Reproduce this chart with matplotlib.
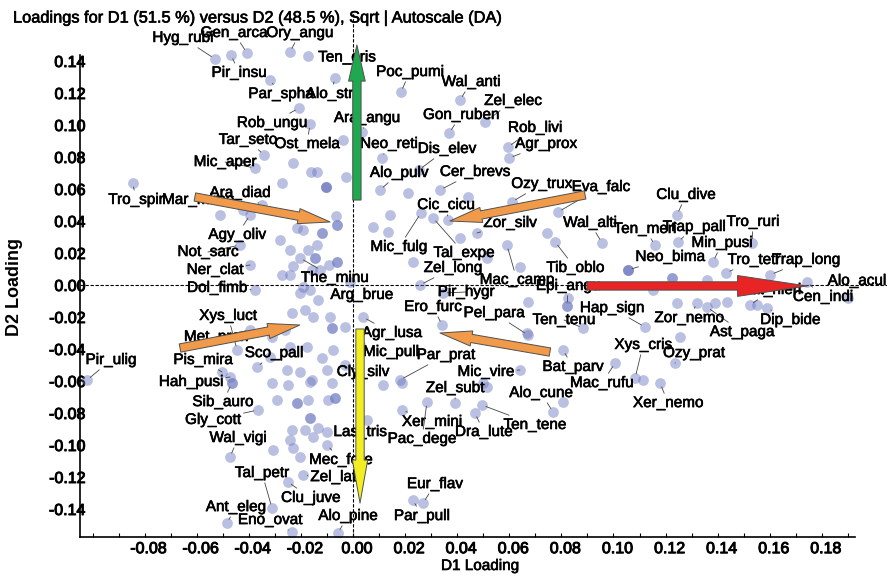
import matplotlib
matplotlib.use("Agg")
import matplotlib.pyplot as plt
import matplotlib.transforms as mtrans
import matplotlib.patheffects as pe
from matplotlib.patches import FancyArrowPatch
import numpy as np

plt.rcParams['font.family'] = ['Liberation Sans', 'DejaVu Sans']

# ---------------- data ----------------
title = "Loadings for D1 (51.5 %) versus D2 (48.5 %), Sqrt | Autoscale (DA)"
x_label = "D1 Loading"
y_label = "D2 Loading"
x_ticks = [-0.08, -0.06, -0.04, -0.02, 0.00, 0.02, 0.04, 0.06, 0.08, 0.10, 0.12, 0.14, 0.16, 0.18]
y_ticks = [-0.14, -0.12, -0.10, -0.08, -0.06, -0.04, -0.02, 0.00, 0.02, 0.04, 0.06, 0.08, 0.10, 0.12, 0.14]

# labelled species loadings
lab_names = ["Hyg_rubi", "Gen_arca", "Pir_insu", "Ory_angu", "Ten_oris", "Par_spha", "Alo_stri",
             "Poc_pumi", "Wal_anti", "Zel_elec", "Gon_ruben", "Rob_livi", "Agr_prox", "Rob_ungu",
             "Ara_angu", "Tar_seto", "Ost_mela", "Neo_reti", "Dis_elev", "Mic_aper", "Alo_pulv",
             "Cer_brevs", "Ozy_trux", "Eva_falc", "Clu_dive", "Tro_spir", "Mar_mime", "Ara_diad",
             "Agy_oliv", "Cic_cicu", "Mic_fulg", "Tal_expe", "Zor_silv", "Wal_alti", "Ten_meri",
             "Trap_pall", "Tro_ruri", "Min_pusi", "Neo_bima", "Tro_tetr", "Trap_long", "Alo_acul",
             "Cen_indi", "Lat_nieri", "Dip_bide", "Ast_paga", "Zor_nemo", "Ozy_prat", "Xer_nemo",
             "Xys_cris", "Mac_rufu", "Bat_parv", "Alo_cune", "Ten_tene", "Dra_lute", "Zel_subt",
             "Xer_mini", "Pac_dege", "Las_tris", "Mec_fore", "Zel_lati", "Tal_petr", "Clu_juve",
             "Ant_eleg", "Eno_ovat", "Alo_pine", "Eur_flav", "Par_pull", "Agr_lusa", "Mic_pull",
             "Cly_silv", "Par_prat", "Mic_vire", "Pel_para", "Ten_tenu", "Hap_sign", "Tib_oblo",
             "Epi_angu", "Mac_camp", "Zel_long", "Pir_hygr", "Ero_furc", "The_minu", "Arg_brue",
             "Ner_clat", "Dol_fimb", "Not_sarc", "Xys_luct", "Met_pron", "Pis_mira", "Sco_pall",
             "Pir_ulig", "Hah_pusi", "Sib_auro", "Gly_cott", "Wal_vigi"]
lab_x = [-0.0530, -0.0407, -0.0468, -0.0242, 0.0015, -0.0319, -0.0069,
         0.0184, 0.0411, 0.0507, 0.0369, 0.0595, 0.0599, -0.0207,
         0.0035, -0.0342, -0.0165, 0.0111, 0.0253, -0.0376, 0.0104,
         0.0334, 0.0610, 0.0787, 0.1244, -0.0845, -0.0422, -0.0349,
         -0.0395, 0.0365, 0.0261, 0.0307, 0.0476, 0.0956, 0.1159,
         0.1248, 0.1532, 0.1382, 0.1056, 0.1432, 0.1601, 0.1900,
         0.1743, 0.1524, 0.1590, 0.1359, 0.1321, 0.1236, 0.1179,
         0.1083, 0.1006, 0.0806, 0.0768, 0.0495, 0.0468, 0.0392,
         0.0188, 0.0284, 0.0054, -0.0100, -0.0192, -0.0311, -0.0250,
         -0.0484, -0.0234, -0.0058, 0.0269, 0.0230, 0.0038, 0.0027,
         -0.0031, 0.0180, 0.0641, 0.0672, 0.0883, 0.1121, 0.0776,
         0.0822, 0.0591, 0.0257, 0.0346, 0.0342, -0.0204, -0.0012,
         -0.0395, -0.0376, -0.0434, -0.0445, -0.0395, -0.0503, -0.0369,
         -0.1021, -0.0472, -0.0465, -0.0365, -0.0472]
lab_y = [0.1413, 0.1450, 0.1438, 0.1456, 0.1310, 0.1281, 0.1294,
         0.1206, 0.1156, 0.1019, 0.0950, 0.0863, 0.0794, 0.1106,
         0.0956, 0.0813, 0.1006, 0.0794, 0.0719, 0.0731, 0.0594,
         0.0594, 0.0519, 0.0456, 0.0438, 0.0638, 0.0469, 0.0500,
         0.0438, 0.0406, 0.0450, 0.0419, 0.0325, 0.0263, 0.0250,
         0.0269, 0.0263, 0.0144, 0.0094, 0.0075, 0.0063, -0.0081,
         0.0019, -0.0125, -0.0144, -0.0138, -0.0113, -0.0488, -0.0613,
         -0.0581, -0.0488, -0.0406, -0.0794, -0.0750, -0.0800, -0.0738,
         -0.0781, -0.0731, -0.0844, -0.1000, -0.1188, -0.1394, -0.1231,
         -0.1488, -0.1544, -0.1550, -0.1363, -0.1344, -0.0200, -0.0375,
         -0.0500, -0.0594, -0.0531, -0.0313, -0.0269, -0.0263, 0.0269,
         -0.0131, 0.0250, 0.0000, -0.0050, -0.0250, 0.0169, 0.0019,
         0.0125, -0.0031, 0.0250, -0.0406, -0.0281, -0.0544, -0.0513,
         -0.0594, -0.0575, -0.0613, -0.0781, -0.1075]

# unlabelled species loadings
pt_x = [-0.0173, -0.0038, -0.0230, -0.0161, -0.0138, -0.0027, -0.0104, -0.0104, -0.0273, 0.0211,
        0.0442, -0.0061, -0.0061, -0.0065, -0.0119, -0.0119, -0.0146, -0.0146, -0.0061, -0.0061,
        -0.0092, -0.0242, -0.0280, -0.0215, -0.0192, -0.0173, -0.0138, -0.0242, -0.0273, -0.0230,
        -0.0157, -0.0127, -0.0192, -0.0165, -0.0134, -0.0204, -0.0234, -0.0184, -0.0154, -0.0088,
        -0.0031, -0.0081, -0.0081, -0.0261, -0.0311, -0.0242, -0.0177, -0.0119, -0.0077, -0.0319,
        -0.0253, -0.0204, -0.0157, -0.0100, 0.0142, 0.0077, 0.0134, 0.0230, 0.0745, 0.0411,
        0.0515, 0.0641, 0.1152, 0.0672, 0.0668, 0.0500, 0.1244, 0.1255, 0.1359, 0.1225,
        0.1225, 0.1390, 0.1436, 0.1551, -0.0465, -0.0311, -0.0250, -0.0165, -0.0081, 0.0115,
        0.0188, -0.0069, -0.0069, -0.0096, -0.0215, -0.0215, -0.0173, -0.0292, -0.0165, -0.0165,
        -0.0134, -0.0184, -0.0234, -0.0100, -0.0154, -0.0242, -0.0307, -0.0230, -0.0204, 0.0806,
        0.1113, 0.0515, -0.0510, -0.0104, 0.0825, 0.1056, 0.1056, 0.0822]
pt_y = [0.1431, 0.0906, 0.0763, 0.0706, 0.0706, 0.0675, 0.0613, 0.0613, 0.0638, 0.0575,
        0.0550, 0.0375, 0.0375, 0.0431, 0.0325, 0.0325, 0.0169, 0.0169, 0.0144, 0.0144,
        0.0125, 0.0219, 0.0281, 0.0356, 0.0344, 0.0219, 0.0250, 0.0063, 0.0063, 0.0119,
        0.0094, 0.0094, -0.0013, -0.0031, -0.0094, -0.0050, -0.0175, -0.0156, -0.0200, -0.0200,
        -0.0263, -0.0269, -0.0269, -0.0281, -0.0325, -0.0388, -0.0388, -0.0456, -0.0406, -0.0450,
        -0.0531, -0.0544, -0.0594, -0.0531, 0.0438, 0.0363, 0.0331, 0.0144, 0.0325, 0.0294,
        0.0169, 0.0113, -0.0031, -0.0106, -0.0300, -0.0613, -0.0113, -0.0325, 0.0031, 0.0044,
        0.0044, -0.0113, -0.0106, -0.0125, -0.0613, -0.0613, -0.0625, -0.0606, -0.0613, -0.0625,
        -0.0613, -0.0706, -0.0706, -0.0719, -0.0738, -0.0738, -0.0719, -0.0719, -0.0831, -0.0831,
        -0.0894, -0.0906, -0.0906, -0.0919, -0.0950, -0.0969, -0.1031, -0.1019, -0.1075, -0.0731,
        -0.0594, -0.0638, 0.0438, 0.0613, -0.0081, 0.0094, 0.0094, -0.0131]

# group vectors (start -> end), D1/D2 loading units
arrow_x0 = [0.0015, 0.0027, 0.0898, -0.0607, 0.0891, -0.0664, 0.0756]
arrow_y0 = [0.0531, -0.0275, -0.0006, 0.0550, 0.0563, -0.0394, -0.0419]
arrow_x1 = [0.0015, 0.0027, 0.1743, -0.0088, 0.0372, -0.0204, 0.0334]
arrow_y1 = [0.1500, -0.1363, -0.0006, 0.0394, 0.0400, -0.0250, -0.0300]

# ---------------- layout / style (pixels) ----------------
label_offsets = {
    "Hyg_rubi": (-32, 21), "Gen_arca": (-13, 20), "Pir_insu": (8, -18), "Ory_angu": (10, 19),
    "Ten_oris": (-10, 18), "Par_spha": (11, -14), "Alo_stri": (-4, -16), "Poc_pumi": (9, 20),
    "Wal_anti": (11, 18), "Zel_elec": (28, 21), "Gon_ruben": (12, 18), "Rob_livi": (27, 19),
    "Agr_prox": (37, 14), "Rob_ungu": (-27, -15), "Ara_angu": (5, 14), "Tar_seto": (-16, 15),
    "Ost_mela": (-3, -20), "Neo_reti": (7, 14), "Dis_elev": (28, 21), "Mic_aper": (-30, 6),
    "Alo_pulv": (19, 17), "Cer_brevs": (35, 18), "Ozy_trux": (30, 18), "Eva_falc": (43, 25),
    "Clu_dive": (9, 20), "Tro_spir": (3, -17), "Mar_mime": (-45, 10), "Ara_diad": (-22, 12),
    "Agy_oliv": (-13, -20), "Cic_cicu": (-2, 15), "Mic_fulg": (-22, -34), "Tal_expe": (31, -35),
    "Zor_silv": (33, 10), "Wal_alti": (-12, 20), "Ten_meri": (-10, 16), "Trap_pall": (16, 15),
    "Tro_ruri": (1, 21), "Min_pusi": (9, 19), "Neo_bima": (42, 13), "Tro_tetr": (28, 13),
    "Trap_long": (36, 15), "Alo_acul": (9, 17), "Cen_indi": (16, -15), "Lat_nieri": (22, 15),
    "Dip_bide": (23, -12), "Ast_paga": (35, -25), "Zor_nemo": (-8, -15), "Ozy_prat": (19, 10),
    "Xer_nemo": (8, -20), "Xys_cris": (8, 33), "Mac_rufu": (-13, -20), "Bat_parv": (10, -17),
    "Alo_cune": (-12, 19), "Ten_tene": (53, -20), "Dra_lute": (9, -19), "Zel_subt": (0, 15),
    "Xer_mini": (30, -12), "Pac_dege": (-5, -37), "Las_tris": (-7, -12), "Mec_fore": (14, -15),
    "Zel_lati": (32, -2), "Tal_petr": (-10, 35), "Clu_juve": (23, -16), "Ant_eleg": (9, 16),
    "Eno_ovat": (-22, 12), "Alo_pine": (10, 17), "Eur_flav": (12, 19), "Par_pull": (9, -16),
    "Agr_lusa": (29, -16), "Mic_pull": (31, -7), "Cly_silv": (18, -7), "Par_prat": (46, 25),
    "Mic_vire": (-34, -2), "Pel_para": (-34, 22), "Ten_tenu": (-19, 8), "Hap_sign": (-33, 19),
    "Tib_oblo": (20, -26), "Epi_angu": (1, 20), "Mac_camp": (10, -35), "Zel_long": (33, 17),
    "Pir_hygr": (23, 1), "Ero_furc": (-9, 18), "The_minu": (35, -20), "Arg_brue": (12, -13),
    "Ner_clat": (-35, -5), "Dol_fimb": (-38, 2), "Not_sarc": (-32, -7), "Xys_luct": (-9, 34),
    "Met_pron": (-34, -7), "Pis_mira": (-19, 12), "Sco_pall": (17, 14), "Pir_ulig": (24, 20),
    "Hah_pusi": (-39, -5), "Sib_auro": (-9, -19), "Gly_cott": (-45, -10), "Wal_vigi": (8, 19),
}
arrow_colors = ["#1fa84f", "#f2ee22", "#e82424", "#f09a4a", "#f09a4a", "#f09a4a", "#f09a4a"]
arrow_styles = ["simple,head_length=26,head_width=12,tail_width=6",
                "simple,head_length=31,head_width=11,tail_width=6",
                "simple,head_length=50,head_width=15,tail_width=6",
                "simple,head_length=23,head_width=11,tail_width=6",
                "simple,head_length=23,head_width=11,tail_width=6",
                "simple,head_length=23,head_width=11,tail_width=6",
                "simple,head_length=23,head_width=11,tail_width=6"]
heavy = [pe.withStroke(linewidth=0.45, foreground="black")]

W, H = 893, 576
fig = plt.figure(figsize=(W / 100, H / 100), dpi=100)
ax_l, ax_r, ax_t, ax_b = 80, 887, 13, 537
ax = fig.add_axes([ax_l / W, (H - ax_b) / H, (ax_r - ax_l) / W, (ax_b - ax_t) / H])
ax.set_xlim(-0.1048, 0.2050)
ax.set_ylim(-0.1575, 0.1700)

pt_color = "#6a76be"
ax.scatter(pt_x, pt_y, s=60, color=pt_color, alpha=0.46, linewidths=0, zorder=2)
ax.scatter(lab_x, lab_y, s=60, color=pt_color, alpha=0.46, linewidths=0, zorder=2)

ax.axhline(0, color="black", lw=0.8, ls=(0, (3, 1.5)), zorder=1.5)
ax.axvline(0, color="black", lw=0.8, ls=(0, (3, 1.5)), zorder=1.5)

for name, x, y in zip(lab_names, lab_x, lab_y):
    dx, dy = label_offsets[name]
    props = None
    if (dx * dx + dy * dy) ** 0.5 > 14:
        props = dict(arrowstyle="-", color="#444444", lw=0.6, shrinkA=0, shrinkB=3)
    ax.annotate(name, xy=(x, y), xytext=(dx, dy), textcoords="offset pixels",
                ha="center", va="center", fontsize=11, color="black",
                arrowprops=props, zorder=3, annotation_clip=False, path_effects=heavy)

for x0, y0, x1, y1, c, st in zip(arrow_x0, arrow_y0, arrow_x1, arrow_y1, arrow_colors, arrow_styles):
    ar = FancyArrowPatch((x0, y0), (x1, y1), arrowstyle=st, mutation_scale=1,
                         shrinkA=0, shrinkB=0, facecolor=c, edgecolor="#505050",
                         lw=0.7, zorder=5)
    ax.add_patch(ar)

for s in ["top", "right"]:
    ax.spines[s].set_visible(False)
ax.spines["left"].set_bounds(-0.1575, 0.14375)
ax.spines["bottom"].set_bounds(-0.1048, 0.1927)
ax.spines["left"].set_linewidth(1.2)
ax.spines["bottom"].set_linewidth(1.2)

ax.set_xticks(x_ticks)
ax.set_xticklabels([f"{v:.2f}" for v in x_ticks])
ax.set_yticks(y_ticks)
ax.set_yticklabels([f"{v:.2f}" for v in y_ticks])
ax.set_xticks(np.arange(-0.10, 0.195, 0.01), minor=True)
ax.tick_params(axis="x", which="both", direction="in", length=3, width=0.8, pad=3, labelsize=11.5)
ax.tick_params(axis="y", which="both", direction="in", length=0, pad=-4, labelsize=11.5)
off = mtrans.ScaledTranslation(4 / 100, 0, fig.dpi_scale_trans)
for lab in ax.get_xticklabels():
    lab.set_transform(lab.get_transform() + off)
for lab in ax.get_xticklabels() + ax.get_yticklabels():
    lab.set_path_effects([pe.withStroke(linewidth=0.7, foreground="black")])

fig.text(13 / W, 1 - 18 / H, title, ha="left", va="center", fontsize=11.8, path_effects=heavy)
fig.text(480 / W, 1 - 566 / H, x_label, ha="center", va="center", fontsize=11, path_effects=heavy)
fig.text(15 / W, 1 - 287 / H, y_label, ha="center", va="center", fontsize=13,
         fontweight="bold", rotation=90)

fig.savefig("out.png", dpi=100)
